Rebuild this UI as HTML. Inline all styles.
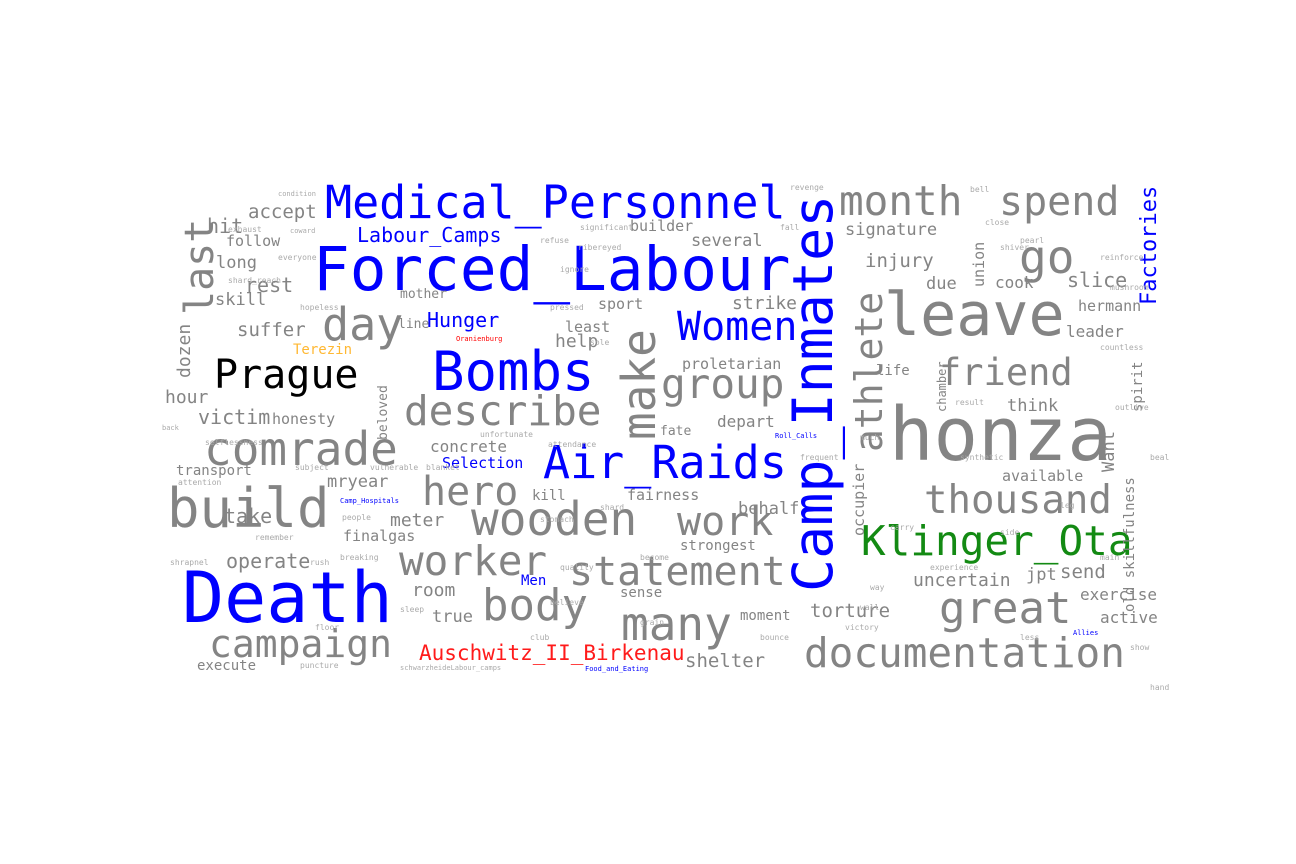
<!DOCTYPE html>
<html>
<head>
<meta charset="utf-8">
<style>
html,body{margin:0;padding:0;background:#fff;}
svg{display:block;}
text{font-family:"DejaVu Sans Mono","Liberation Mono",monospace;}
.g{fill:#848484;}
.b{fill:#0000ff;}
</style>
</head>
<body>
<svg width="1296" height="864" viewBox="0 0 1296 864">
<g>
<text class="b" x="313" y="290" font-size="61">Forced_Labour</text>
<text class="b" x="325" y="218" font-size="45">Medical_Personnel</text>
<text class="b" x="182" y="622" font-size="70">Death</text>
<text class="b" font-size="55" transform="translate(832,592) rotate(-90)">Camp_Inmates</text>
<text class="g" x="889" y="460" font-size="74">honza</text>
<text class="g" x="884" y="335" font-size="60">leave</text>
<text class="g" x="167" y="527" font-size="54">build</text>
<text class="b" x="432" y="390" font-size="54">Bombs</text>
<text class="b" x="543" y="478" font-size="45">Air_Raids</text>
<text class="g" x="924" y="513" font-size="39">thousand</text>
<text class="g" x="939" y="623" font-size="44">great</text>
<text class="g" x="804" y="667" font-size="41">documentation</text>
<text class="g" x="621" y="640" font-size="46">many</text>
<text class="g" x="482" y="620" font-size="44">body</text>
<text class="g" x="569" y="585" font-size="40">statement</text>
<text class="g" x="471" y="535" font-size="46">wooden</text>
<text class="g" x="677" y="535" font-size="40">work</text>
<text class="g" x="399" y="575" font-size="41">worker</text>
<text class="g" x="209" y="657" font-size="38">campaign</text>
<text class="g" x="204" y="465" font-size="46">comrade</text>
<text class="g" x="404" y="425" font-size="41">describe</text>
<text class="g" x="322" y="340" font-size="45">day</text>
<text fill="#000" x="214" y="388" font-size="40">Prague</text>
<text class="g" x="422" y="505" font-size="40">hero</text>
<text class="g" x="661" y="398" font-size="41">group</text>
<text class="g" x="939" y="385" font-size="37">friend</text>
<text class="g" x="839" y="215" font-size="41">month</text>
<text class="g" x="999" y="215" font-size="40">spend</text>
<text class="g" x="1019" y="273" font-size="46">go</text>
<text class="b" x="677" y="340" font-size="40">Women</text>
<text class="g" font-size="46" transform="translate(655,440) rotate(-90)">make</text>
<text class="g" font-size="38" transform="translate(882,452) rotate(-90)">athlete</text>
<text class="g" font-size="40" transform="translate(213,315) rotate(-90)">last</text>
<text fill="#138a13" x="861" y="555" font-size="41">Klinger_Ota</text>
<text fill="#ff1a1a" x="419" y="660" font-size="21">Auschwitz_II_Birkenau</text>
<text class="b" font-size="22" transform="translate(1156,305) rotate(-90)">Factories</text>
<text class="b" x="357" y="242" font-size="20">Labour_Camps</text>
<text class="b" x="427" y="327" font-size="20">Hunger</text>
<text fill="#ffb833" x="293" y="354" font-size="14">Terezin</text>
<text class="b" x="442" y="468" font-size="15">Selection</text>
<text class="b" x="521" y="585" font-size="14">Men</text>
<text fill="#ff0000" x="456" y="341" font-size="7">Oranienburg</text>
<text class="b" x="340" y="503" font-size="7">Camp_Hospitals</text>
<text class="b" x="775" y="438" font-size="7">Roll_Calls</text>
<text class="b" x="585" y="671" font-size="7">Food_and_Eating</text>
<text class="b" x="1073" y="635" font-size="7">Allies</text>

<g class="g">
<text x="207" y="233" font-size="20">hit</text>
<text x="248" y="218" font-size="19">accept</text>
<text x="226" y="246" font-size="15">follow</text>
<text x="216" y="268" font-size="17">long</text>
<text x="245" y="292" font-size="20">rest</text>
<text x="215" y="305" font-size="17">skill</text>
<text x="237" y="336" font-size="19">suffer</text>
<text font-size="18" transform="translate(190,378) rotate(-90)">dozen</text>
<text x="165" y="403" font-size="18">hour</text>
<text x="198" y="424" font-size="20">victim</text>
<text x="272" y="424" font-size="15">honesty</text>
<text x="176" y="475" font-size="14">transport</text>
<text x="327" y="487" font-size="17">mryear</text>
<text x="224" y="523" font-size="20">take</text>
<text x="390" y="526" font-size="18">meter</text>
<text x="226" y="568" font-size="20">operate</text>
<text x="343" y="541" font-size="15">finalgas</text>
<text x="412" y="596" font-size="18">room</text>
<text x="432" y="622" font-size="17">true</text>
<text x="197" y="670" font-size="14">execute</text>
<text x="685" y="667" font-size="19">shelter</text>
<text x="810" y="617" font-size="19">torture</text>
<text x="913" y="586" font-size="18">uncertain</text>
<text x="1026" y="580" font-size="17">jpt</text>
<text x="1060" y="578" font-size="19">send</text>
<text x="1080" y="600" font-size="16">exercise</text>
<text x="1100" y="623" font-size="16">active</text>
<text font-size="14" transform="translate(1134,612) rotate(-90)">old skillfulness</text>
<text font-size="17" transform="translate(1114,472) rotate(-90)">Want</text>
<text font-size="14" transform="translate(1142,412) rotate(-90)">spirit</text>
<text x="1066" y="337" font-size="16">leader</text>
<text x="1078" y="311" font-size="15">hermann</text>
<text x="1067" y="287" font-size="20">slice</text>
<text x="995" y="288" font-size="16">cook</text>
<text x="926" y="289" font-size="17">due</text>
<text font-size="15" transform="translate(984,287) rotate(-90)">union</text>
<text x="865" y="267" font-size="19">injury</text>
<text x="845" y="235" font-size="17">signature</text>
<text x="691" y="246" font-size="17">several</text>
<text x="630" y="231" font-size="15">builder</text>
<text x="732" y="309" font-size="18">strike</text>
<text x="598" y="309" font-size="15">sport</text>
<text x="555" y="347" font-size="18">help</text>
<text x="565" y="332" font-size="15">least</text>
<text x="682" y="369" font-size="15">proletarian</text>
<text x="876" y="375" font-size="14">life</text>
<text font-size="12" transform="translate(946,412) rotate(-90)">chamber</text>
<text x="1007" y="411" font-size="17">think</text>
<text x="717" y="427" font-size="16">depart</text>
<text x="660" y="435" font-size="13">fate</text>
<text x="1002" y="481" font-size="15">available</text>
<text x="738" y="514" font-size="17">behalf</text>
<text font-size="15" transform="translate(864,536) rotate(-90)">occupier</text>
<text x="532" y="500" font-size="14">kill</text>
<text x="627" y="500" font-size="15">fairness</text>
<text x="680" y="550" font-size="14">strongest</text>
<text x="430" y="452" font-size="16">concrete</text>
<text font-size="13" transform="translate(387,440) rotate(-90)">beloved</text>
<text x="398" y="328" font-size="13">line</text>
<text x="400" y="298" font-size="13">mother</text>
<text x="740" y="620" font-size="14">moment</text>
<text x="620" y="597" font-size="14">sense</text>
<text x="278" y="260" font-size="8" fill="#aaa">everyone</text>
<text x="228" y="232" font-size="8" fill="#aaa">exhaust</text>
<text x="290" y="233" font-size="7" fill="#aaa">coward</text>
<text x="278" y="196" font-size="7" fill="#aaa">condition</text>
<text x="228" y="283" font-size="8" fill="#aaa">shard_reach</text>
<text x="300" y="310" font-size="8" fill="#aaa">hopeless</text>
<text x="162" y="430" font-size="7" fill="#aaa">back</text>
<text x="205" y="445" font-size="8" fill="#aaa">selflessness</text>
<text x="178" y="485" font-size="8" fill="#aaa">attention</text>
<text x="295" y="470" font-size="8" fill="#aaa">subject</text>
<text x="342" y="520" font-size="8" fill="#aaa">people</text>
<text x="255" y="540" font-size="8" fill="#aaa">remember</text>
<text x="170" y="565" font-size="8" fill="#aaa">shrapnel</text>
<text x="310" y="565" font-size="8" fill="#aaa">rush</text>
<text x="340" y="560" font-size="8" fill="#aaa">breaking</text>
<text x="400" y="612" font-size="8" fill="#aaa">sleep</text>
<text x="315" y="630" font-size="8" fill="#aaa">floor</text>
<text x="300" y="668" font-size="8" fill="#aaa">puncture</text>
<text x="400" y="670" font-size="7" fill="#aaa">schwarzheideLabour_camps</text>
<text x="530" y="640" font-size="8" fill="#aaa">club</text>
<text x="550" y="605" font-size="8" fill="#aaa">believe</text>
<text x="560" y="570" font-size="8" fill="#aaa">quality</text>
<text x="640" y="625" font-size="8" fill="#aaa">grain</text>
<text x="760" y="640" font-size="8" fill="#aaa">bounce</text>
<text x="845" y="630" font-size="8" fill="#aaa">victory</text>
<text x="870" y="590" font-size="8" fill="#aaa">way</text>
<text x="930" y="570" font-size="8" fill="#aaa">experience</text>
<text x="860" y="610" font-size="8" fill="#aaa">wall</text>
<text x="1000" y="535" font-size="8" fill="#aaa">side</text>
<text x="1060" y="508" font-size="8" fill="#aaa">leg</text>
<text x="960" y="460" font-size="8" fill="#aaa">synthetic</text>
<text x="955" y="405" font-size="8" fill="#aaa">result</text>
<text x="1115" y="410" font-size="8" fill="#aaa">outlive</text>
<text x="1100" y="350" font-size="8" fill="#aaa">countless</text>
<text x="1100" y="260" font-size="8" fill="#aaa">reinforce</text>
<text x="1110" y="290" font-size="8" fill="#aaa">mushroom</text>
<text x="1000" y="250" font-size="8" fill="#aaa">shiver</text>
<text x="1020" y="243" font-size="8" fill="#aaa">pearl</text>
<text x="985" y="225" font-size="8" fill="#aaa">close</text>
<text x="970" y="192" font-size="8" fill="#aaa">bell</text>
<text x="790" y="190" font-size="8" fill="#aaa">revenge</text>
<text x="780" y="230" font-size="8" fill="#aaa">fall</text>
<text x="580" y="230" font-size="8" fill="#aaa">significant</text>
<text x="540" y="243" font-size="8" fill="#aaa">refuse</text>
<text x="578" y="250" font-size="8" fill="#aaa">ribereyed</text>
<text x="560" y="272" font-size="8" fill="#aaa">ignore</text>
<text x="550" y="310" font-size="8" fill="#aaa">pressed</text>
<text x="590" y="345" font-size="8" fill="#aaa">sole</text>
<text x="480" y="437" font-size="8" fill="#aaa">unfortunate</text>
<text x="548" y="447" font-size="8" fill="#aaa">attendance</text>
<text x="370" y="470" font-size="8" fill="#aaa">vulnerable</text>
<text x="426" y="470" font-size="8" fill="#aaa">blanket</text>
<text x="540" y="522" font-size="8" fill="#aaa">stomach</text>
<text x="640" y="560" font-size="8" fill="#aaa">become</text>
<text x="600" y="510" font-size="8" fill="#aaa">shard</text>
<text x="800" y="460" font-size="8" fill="#aaa">frequent</text>
<text x="860" y="440" font-size="8" fill="#aaa">much</text>
<text x="890" y="530" font-size="8" fill="#aaa">carry</text>
<text x="1150" y="460" font-size="8" fill="#aaa">beal</text>
<text x="1150" y="690" font-size="8" fill="#aaa">hand</text>
<text x="1100" y="560" font-size="8" fill="#aaa">main</text>
<text x="1130" y="650" font-size="8" fill="#aaa">show</text>
<text x="1020" y="640" font-size="8" fill="#aaa">less</text>
</g>
</g>
</svg>
</body>
</html>
